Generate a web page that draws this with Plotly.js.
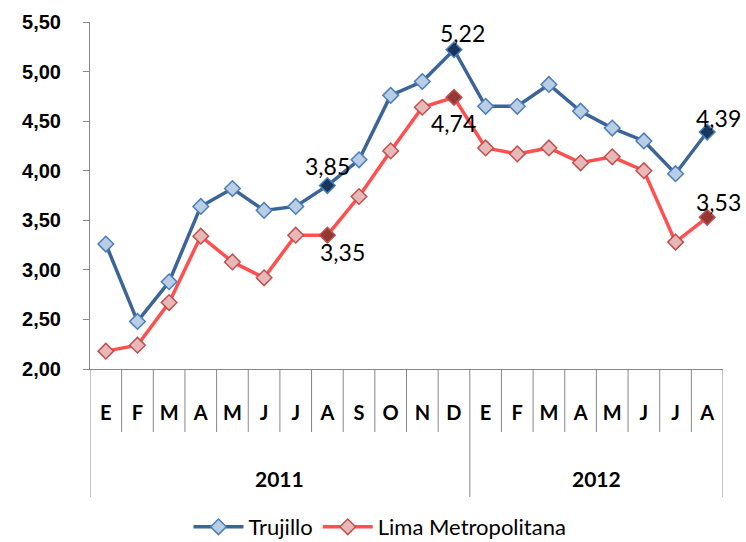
<!DOCTYPE html>
<html>
<head>
<meta charset="utf-8">
<script src="https://cdn.plot.ly/plotly-3.0.1.min.js"></script>
<style>html,body{margin:0;padding:0;background:#fff}#chart{width:746px;height:542px}</style>
</head>
<body>
<div id="chart"></div>
<script>
// ---- data ----
var months = ["E","F","M","A","M","J","J","A","S","O","N","D","E","F","M","A","M","J","J","A"];
var years = ["2011","2012"];
var yearSizes = [12, 8];
var trujillo = [3.26,2.48,2.88,3.64,3.82,3.60,3.64,3.85,4.11,4.76,4.90,5.22,4.65,4.65,4.87,4.60,4.43,4.30,3.97,4.39];
var lima = [2.18,2.24,2.67,3.34,3.08,2.92,3.35,3.35,3.74,4.20,4.64,4.74,4.23,4.17,4.23,4.08,4.14,4.00,3.28,3.53];
var seriesNames = ["Trujillo","Lima Metropolitana"];
var labeledIdx = [7, 11, 19];

var idx = months.map(function(_, i){ return i; });

function colors(base, hi){
  return idx.map(function(i){ return labeledIdx.indexOf(i) >= 0 ? hi : base; });
}

var traces = [
  {x: idx, y: trujillo, name: seriesNames[0], type: 'scatter', mode: 'lines+markers',
   line: {color: '#3b6598', width: 3.5},
   marker: {symbol: 'diamond', size: 12, color: colors('#b9cde5', '#17375e'),
            line: {color: '#4a7ebb', width: 1.5}}},
  {x: idx, y: lima, name: seriesNames[1], type: 'scatter', mode: 'lines+markers',
   line: {color: '#ff4f4f', width: 3.5},
   marker: {symbol: 'diamond', size: 12, color: colors('#e6b9b8', '#953735'),
            line: {color: '#c0504d', width: 1.5}}}
];

var shapes = [];
var annotations = [];
var plotH = 347; // plot height in px
var monthSepY = -63 / plotH;
var yearSepY = -128 / plotH;
var yearBounds = [-0.5];
var acc = -0.5;
yearSizes.forEach(function(s){ acc += s; yearBounds.push(acc); });
for (var b = 0; b <= months.length; b++) {
  var xb = b - 0.5;
  var isYear = yearBounds.indexOf(xb) >= 0;
  shapes.push({type: 'line', xref: 'x', yref: 'paper', x0: xb, x1: xb, y0: 0,
               y1: isYear ? yearSepY : monthSepY, line: {color: '#868686', width: 1}});
}
years.forEach(function(yr, k){
  annotations.push({xref: 'x', yref: 'paper', x: (yearBounds[k] + yearBounds[k+1]) / 2,
    y: -109 / plotH, text: '<b>' + yr + '</b>', showarrow: false,
    font: {family: 'Lato, sans-serif', size: 21, color: '#000'}, yanchor: 'middle'});
});

function fmt(v){ return v.toFixed(2).replace('.', ','); }
var labelFont = {family: 'Lato, sans-serif', size: 23, color: '#000'};
var tOff = {7: [0, 20], 11: [9, 17], 19: [11, 14]};
var lOff = {7: [15, -17], 11: [0, -26], 19: [11, 15]};
labeledIdx.forEach(function(i){
  annotations.push({xref: 'x', yref: 'y', x: i, y: trujillo[i], text: fmt(trujillo[i]),
    showarrow: false, xshift: tOff[i][0], yshift: tOff[i][1], font: labelFont});
  annotations.push({xref: 'x', yref: 'y', x: i, y: lima[i], text: fmt(lima[i]),
    showarrow: false, xshift: lOff[i][0], yshift: lOff[i][1], font: labelFont});
});

var layout = {
  width: 746, height: 542,
  margin: {l: 90, r: 23, t: 22, b: 173},
  paper_bgcolor: '#fff', plot_bgcolor: '#fff',
  separators: ',.',
  showlegend: true,
  legend: {orientation: 'h', xref: 'container', yref: 'container',
           x: 380 / 746, xanchor: 'center', y: 1 - 527 / 542, yanchor: 'middle',
           font: {family: 'Lato, sans-serif', size: 22, color: '#000'}, itemwidth: 50,
           borderwidth: 0},
  xaxis: {range: [-0.5, months.length - 0.5], tickvals: idx, ticktext: months,
          automargin: false,
          showgrid: false, zeroline: false, showline: true, linecolor: '#868686', linewidth: 1,
          ticks: '', ticklabelstandoff: 26,
          tickfont: {family: 'Lato, sans-serif', size: 20, color: '#000', weight: 'bold'}},
  yaxis: {range: [2, 5.5], dtick: 0.5, tick0: 2, tickformat: '.2f', automargin: false,
          showgrid: false, zeroline: false, showline: true, linecolor: '#868686', linewidth: 1,
          ticks: 'outside', ticklen: 6, tickcolor: '#868686', ticklabelstandoff: 18,
          tickfont: {family: 'Liberation Sans, Arial, sans-serif', size: 20, color: '#000', weight: 'bold'}},
  shapes: shapes,
  annotations: annotations
};

Plotly.newPlot('chart', traces, layout, {displayModeBar: false, staticPlot: true});
</script>
</body>
</html>
